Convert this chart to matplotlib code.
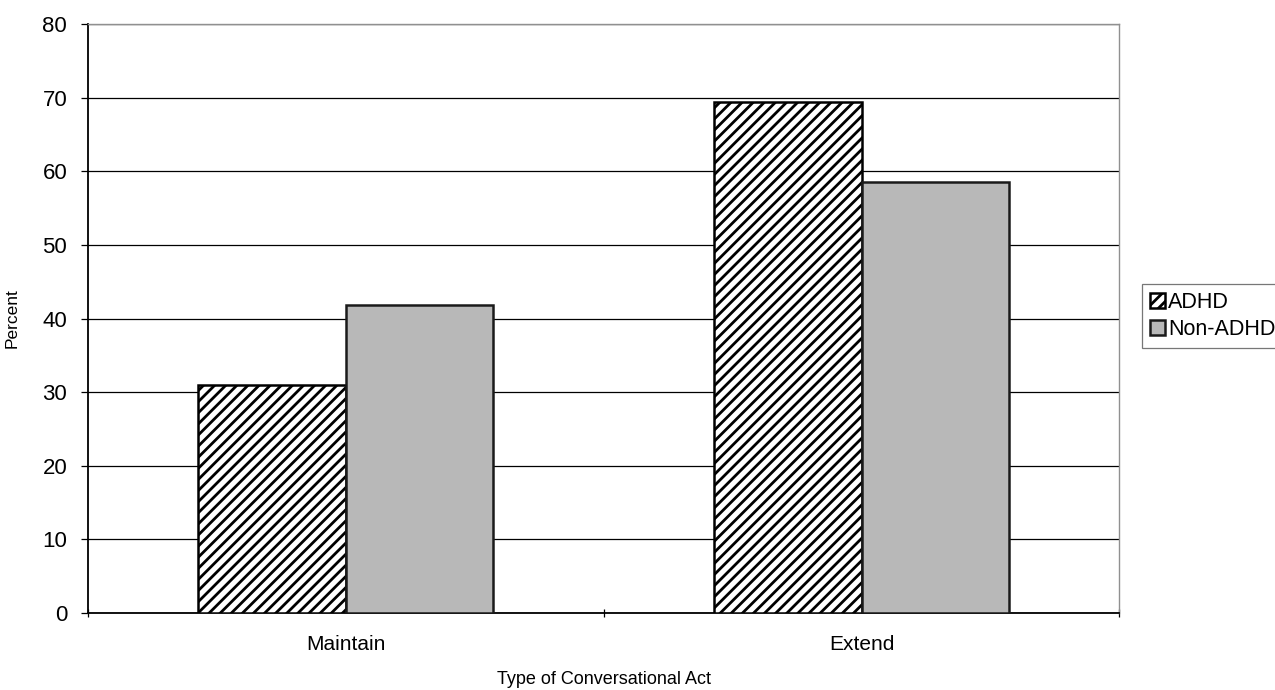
import matplotlib
matplotlib.use("Agg")
import matplotlib.pyplot as plt
import numpy as np

plt.rcParams['font.family'] = ['Liberation Sans', 'DejaVu Sans']
plt.rcParams['hatch.linewidth'] = 2.0

categories = ["Maintain", "Extend"]
series_names = ["ADHD", "Non-ADHD"]
adhd = [31.0, 69.4]
non_adhd = [41.8, 58.6]
y_ticks = [0, 10, 20, 30, 40, 50, 60, 70, 80]

fig = plt.figure(figsize=(12.75, 6.9), dpi=100)
ax = fig.add_axes([0.069, 0.1116, 0.809, 0.8536])

x = np.arange(len(categories))
width = 1 / 3.5

ax.bar(x - width / 2, adhd, width, facecolor='white', edgecolor='black',
       hatch='///', linewidth=1.8, label=series_names[0], zorder=3)
ax.bar(x + width / 2, non_adhd, width, facecolor='#b8b8b8', edgecolor='#1a1a1a',
       linewidth=1.8, label=series_names[1], zorder=3)

ax.set_xlim(-0.5, len(categories) - 0.5)
ax.set_ylim(0, 80)
ax.set_yticks(y_ticks)
ax.set_yticklabels([str(v) for v in y_ticks], fontsize=16)
ax.yaxis.grid(True, color='black', linewidth=0.9)
ax.set_axisbelow(True)

# category labels sit between boundary tick marks
ax.set_xticks(x)
ax.set_xticklabels(categories, fontsize=15)
ax.tick_params(axis='x', length=0, pad=16)
ax.set_xticks(np.arange(-0.5, len(categories)), minor=True)
ax.tick_params(axis='x', which='minor', length=6, width=0.9, direction='inout')
ax.tick_params(axis='y', length=5, width=0.9, direction='out', pad=10)

for side in ['top', 'right']:
    ax.spines[side].set_color('#909090')
    ax.spines[side].set_linewidth(1.0)
for side in ['left', 'bottom']:
    ax.spines[side].set_color('black')
    ax.spines[side].set_linewidth(1.3)

ax.set_ylabel("Percent", fontsize=12.5)
ax.yaxis.set_label_coords(-0.066, 0.5)
ax.set_xlabel("Type of Conversational Act", fontsize=13, va='center')
ax.xaxis.set_label_coords(0.5, -0.1137)

leg = fig.legend(loc='upper left', bbox_to_anchor=(0.8957, 0.588),
                 fontsize=15.5, frameon=True, fancybox=False,
                 edgecolor='#555555', handlelength=0.7, handleheight=0.7,
                 handletextpad=0.15, borderpad=0.35, labelspacing=0.3,
                 borderaxespad=0)
leg.get_frame().set_linewidth(0.9)

fig.savefig("out.png", dpi=100, facecolor='white')
